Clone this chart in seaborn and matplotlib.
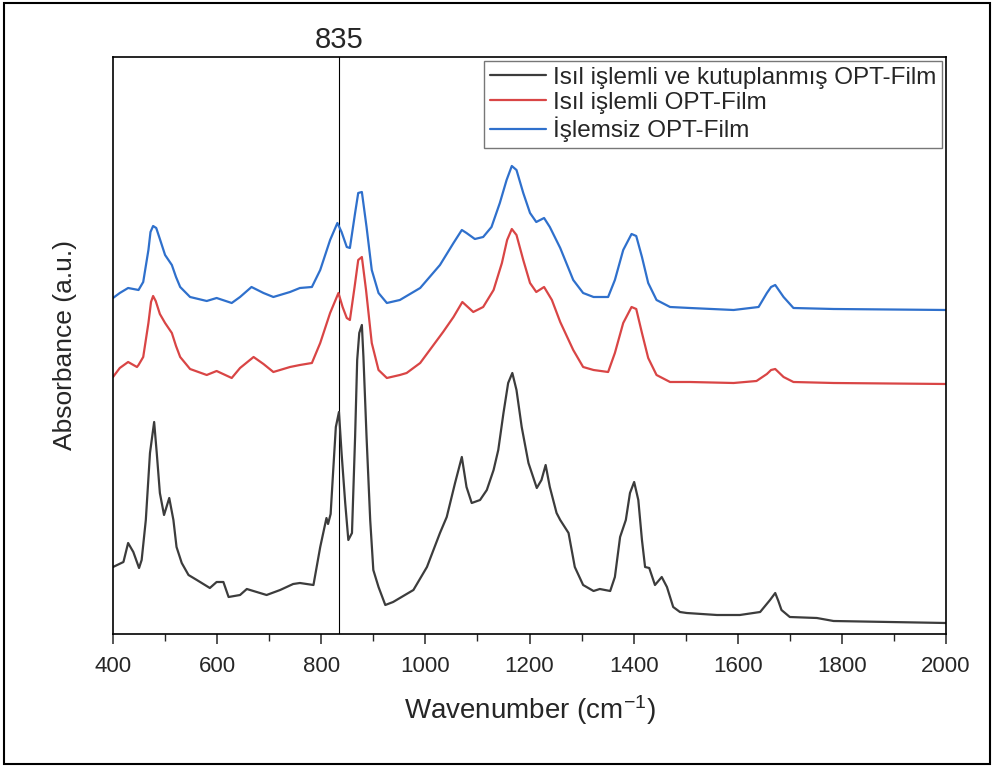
import matplotlib
matplotlib.use("Agg")
import matplotlib.pyplot as plt
from matplotlib.patches import Rectangle
from matplotlib.ticker import MultipleLocator, NullLocator
import seaborn as sns
import pandas as pd

# ---- data ----
black_x = [400, 420, 429, 439, 450, 455, 463, 471, 479, 484, 490, 498, 508, 516, 522, 532, 545, 561,
           586, 599, 612, 622, 644, 657, 676, 695, 721, 746, 759, 785, 798, 810, 813, 818, 823, 828,
           834, 839, 846, 852, 859, 865, 869, 873, 878, 881, 887, 894, 900, 910, 923, 938, 951, 977,
           1003, 1028, 1041, 1057, 1070, 1079, 1089, 1105, 1118, 1131, 1140, 1150, 1159, 1167, 1175,
           1185, 1198, 1214, 1223, 1231, 1239, 1252, 1259, 1275, 1287, 1303, 1323, 1335, 1355, 1364,
           1374, 1385, 1393, 1401, 1409, 1416, 1422, 1430, 1441, 1454, 1464, 1476, 1489, 1502, 1560,
           1604, 1643, 1662, 1672, 1678, 1684, 1700, 1752, 1784, 2000]
black_y = [0.67, 0.72, 0.91, 0.82, 0.66, 0.74, 1.14, 1.81, 2.12, 1.81, 1.41, 1.19, 1.36, 1.14, 0.87,
           0.71, 0.59, 0.54, 0.46, 0.52, 0.52, 0.37, 0.39, 0.45, 0.42, 0.39, 0.44, 0.50, 0.51, 0.49,
           0.87, 1.16, 1.10, 1.20, 1.64, 2.07, 2.22, 1.81, 1.31, 0.94, 1.01, 1.97, 2.74, 3.01, 3.09,
           2.77, 1.97, 1.14, 0.64, 0.47, 0.29, 0.32, 0.36, 0.44, 0.67, 1.01, 1.17, 1.51, 1.77, 1.47,
           1.31, 1.34, 1.44, 1.64, 1.84, 2.21, 2.51, 2.61, 2.44, 2.07, 1.71, 1.46, 1.54, 1.69, 1.47,
           1.21, 1.14, 1.01, 0.67, 0.49, 0.43, 0.45, 0.43, 0.57, 0.97, 1.14, 1.41, 1.52, 1.34, 0.94,
           0.67, 0.66, 0.49, 0.57, 0.47, 0.27, 0.22, 0.21, 0.19, 0.19, 0.22, 0.34, 0.41, 0.33, 0.24,
           0.17, 0.16, 0.13, 0.11]

red_x = [400, 413, 429, 446, 449, 458, 468, 473, 477, 482, 490, 500, 513, 521, 529, 548, 580, 599,
         628, 644, 670, 689, 708, 740, 759, 782, 798, 817, 833, 841, 849, 855, 864, 871, 878, 886,
         897, 910, 926, 951, 964, 990, 1034, 1054, 1071, 1092, 1111, 1131, 1147, 1157, 1166, 1175,
         1188, 1201, 1213, 1228, 1243, 1259, 1284, 1303, 1323, 1351, 1364, 1380, 1396, 1405, 1416,
         1428, 1444, 1470, 1508, 1592, 1636, 1656, 1664, 1672, 1680, 1688, 1707, 1784, 2000]
red_y = [2.57, 2.66, 2.72, 2.67, 2.69, 2.77, 3.11, 3.32, 3.38, 3.33, 3.20, 3.11, 3.01, 2.88, 2.77,
         2.65, 2.59, 2.63, 2.56, 2.66, 2.77, 2.70, 2.62, 2.67, 2.69, 2.71, 2.91, 3.21, 3.41, 3.27,
         3.16, 3.14, 3.47, 3.74, 3.77, 3.44, 2.91, 2.64, 2.56, 2.59, 2.61, 2.71, 3.02, 3.17, 3.32,
         3.22, 3.27, 3.44, 3.71, 3.94, 4.05, 3.99, 3.74, 3.51, 3.42, 3.47, 3.34, 3.12, 2.84, 2.67,
         2.64, 2.62, 2.81, 3.11, 3.27, 3.25, 3.01, 2.76, 2.59, 2.52, 2.52, 2.51, 2.53, 2.60, 2.64,
         2.65, 2.61, 2.57, 2.52, 2.51, 2.50]

blue_x = [400, 413, 429, 449, 458, 468, 472, 477, 483, 490, 500, 513, 521, 529, 548, 580, 599, 628,
          644, 666, 689, 708, 740, 759, 782, 798, 817, 831, 839, 849, 855, 865, 871, 878, 887, 897,
          910, 926, 951, 990, 1028, 1054, 1070, 1079, 1095, 1111, 1127, 1143, 1156, 1166, 1175, 1188,
          1201, 1213, 1228, 1239, 1259, 1284, 1303, 1323, 1351, 1364, 1380, 1396, 1405, 1416, 1428,
          1444, 1470, 1508, 1592, 1640, 1656, 1664, 1672, 1680, 1688, 1707, 1784, 2000]
blue_y = [3.36, 3.41, 3.46, 3.44, 3.52, 3.84, 4.02, 4.08, 4.06, 3.95, 3.79, 3.69, 3.57, 3.47, 3.37,
          3.33, 3.36, 3.31, 3.37, 3.47, 3.41, 3.37, 3.42, 3.46, 3.47, 3.64, 3.94, 4.11, 4.02, 3.87,
          3.86, 4.21, 4.41, 4.42, 4.07, 3.64, 3.41, 3.31, 3.34, 3.46, 3.69, 3.91, 4.04, 4.01, 3.95,
          3.97, 4.07, 4.31, 4.54, 4.68, 4.64, 4.41, 4.21, 4.12, 4.16, 4.07, 3.86, 3.54, 3.41, 3.37,
          3.37, 3.54, 3.84, 4.00, 3.98, 3.77, 3.51, 3.34, 3.27, 3.26, 3.24, 3.27, 3.41, 3.47, 3.49,
          3.43, 3.37, 3.26, 3.25, 3.24]

labels = ["Isıl işlemli ve kutuplanmış OPT-Film", "Isıl işlemli OPT-Film", "İşlemsiz OPT-Film"]
colors = ["#3c3c3c", "#d94545", "#2f70cc"]
marker_line = 835
xticks = [400, 600, 800, 1000, 1200, 1400, 1600, 1800, 2000]

df = pd.concat([
    pd.DataFrame({"x": black_x, "y": black_y, "s": labels[0]}),
    pd.DataFrame({"x": red_x, "y": red_y, "s": labels[1]}),
    pd.DataFrame({"x": blue_x, "y": blue_y, "s": labels[2]}),
], ignore_index=True)

sns.set_style("white")
plt.rcParams["font.family"] = ["Liberation Sans", "DejaVu Sans"]
plt.rcParams["mathtext.default"] = "regular"

fig = plt.figure(figsize=(9.94, 7.67), dpi=100)
ax = fig.add_axes([0.1137, 0.1734, 0.838, 0.7523])

sns.lineplot(data=df, x="x", y="y", hue="s", hue_order=labels,
             palette=dict(zip(labels, colors)), sort=False, estimator=None,
             linewidth=1.6, ax=ax)
for ln in ax.get_lines():
    ln.set_solid_joinstyle("round")

ax.axvline(marker_line, color="black", linewidth=0.8, zorder=0)
ax.text(marker_line, 1.006, str(marker_line), transform=ax.get_xaxis_transform(),
        ha="center", va="bottom", fontsize=21)

ax.set_xlim(400, 2000)
ax.set_ylim(0, 5.77)
ax.set_xticks(xticks)
ax.xaxis.set_minor_locator(MultipleLocator(100))
ax.yaxis.set_major_locator(NullLocator())
ax.tick_params(axis="x", which="major", direction="out", length=7.5, width=1.1,
               labelsize=16, bottom=True, pad=8)
ax.tick_params(axis="x", which="minor", direction="out", length=5, width=1.0, bottom=True)
for sp in ax.spines.values():
    sp.set_color("black")
    sp.set_linewidth(1.2)

ax.set_xlabel("Wavenumber (cm$^{-1}$)", fontsize=20, labelpad=12)
ax.set_ylabel("Absorbance (a.u.)", fontsize=19, labelpad=26)

leg = ax.legend(loc="upper right", bbox_to_anchor=(1, 1), borderaxespad=0.15,
                fontsize=17.5, frameon=True, fancybox=False, edgecolor="#555555",
                handlelength=2.3, handletextpad=0.3, borderpad=0.25, labelspacing=0.12)
leg.get_frame().set_linewidth(1.0)

fig.patches.append(Rectangle((0.004, 0.004), 0.992, 0.992, transform=fig.transFigure,
                             fill=False, edgecolor="black", linewidth=1.5))

fig.savefig("out.png", dpi=100)
